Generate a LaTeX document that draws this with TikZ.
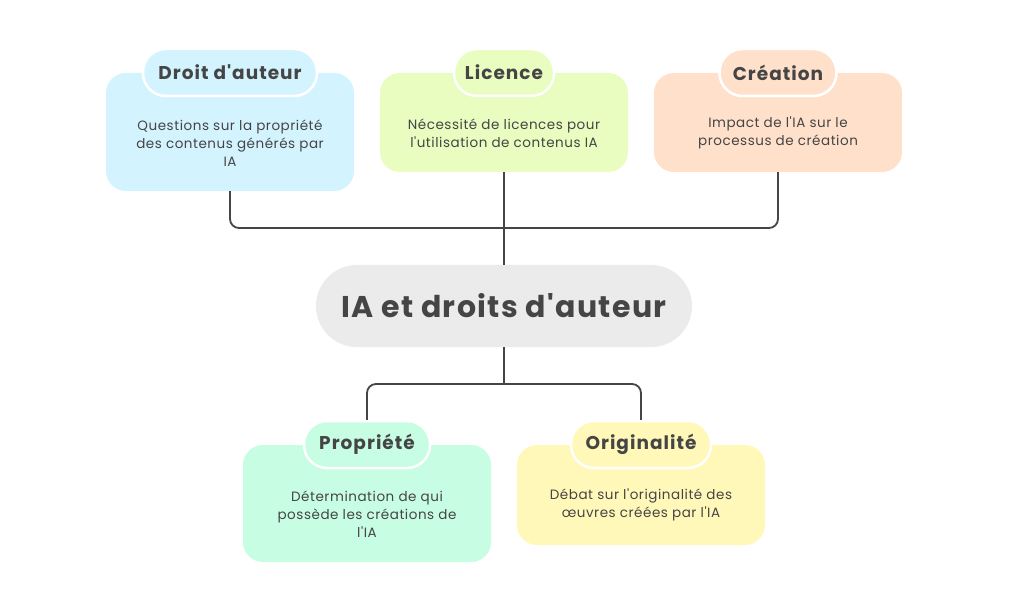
\documentclass[tikz,border=0pt]{standalone}
\usepackage{fontspec}
\setmainfont{Poppins}[Ligatures=TeXOff]
\definecolor{cblue}{HTML}{D3F3FE}
\definecolor{cgreen}{HTML}{E8FDBF}
\definecolor{corange}{HTML}{FFE1CB}
\definecolor{cmint}{HTML}{C7FDE3}
\definecolor{cyellow}{HTML}{FFF8B9}
\definecolor{cgrey}{HTML}{EBEBEB}
\definecolor{ink}{HTML}{454545}
\begin{document}
\begin{tikzpicture}[x=1pt,y=-1pt,
  card/.style={rounded corners=20pt, inner sep=0pt, minimum width=248pt, draw=none},
  tab/.style={rounded corners=23pt, inner sep=0pt, minimum height=47pt, draw=white, line width=2.5pt, text=ink, font=\fontsize{18.5}{20}\selectfont\bfseries\addfontfeatures{LetterSpace=5.5}},
  body/.style={align=center, text=ink, font=\fontsize{13.5}{18}\selectfont\addfontfeatures{LetterSpace=4}, inner sep=0pt},
  conn/.style={draw=ink, line width=1.8pt, rounded corners=9pt},
  hub/.style={rounded corners=41pt, fill=cgrey, minimum width=376pt, minimum height=82pt, inner sep=0pt, text=ink, font=\fontsize{30}{32}\selectfont\bfseries\addfontfeatures{LetterSpace=4.5}}]
\useasboundingbox[fill=white] (0,0) rectangle (1009,612);
\coordinate (j1) at (504,228);
\coordinate (j2) at (504,384);
% cards
\node[card, fill=cblue, minimum height=118pt] (c1) at (230,132) {};
\node[card, fill=cgreen, minimum height=99pt] (c2) at (504,122.5) {};
\node[card, fill=corange, minimum height=99pt] (c3) at (778,122.5) {};
\node[card, fill=cmint, minimum height=117pt] (c4) at (367,503.5) {};
\node[card, fill=cyellow, minimum height=100pt] (c5) at (641,495) {};
\node[hub] (hub) at (504,306) {IA et droits d'auteur};
\draw[conn] (c1.south) |- (j1) -| (c3.south);
\draw[conn] (c2.south) -- (hub.north);
\draw[conn] (hub.south) -- (j2);
% tabs
\node[tab, fill=cblue, minimum width=174pt] (t1) at (230,72.5) {Droit d'auteur};
\node[tab, fill=cgreen, minimum width=100pt] (t2) at (504,72.5) {Licence};
\node[tab, fill=corange, minimum width=117pt] (t3) at (778,72.5) {Création};
\node[tab, fill=cmint, minimum width=126pt] (t4) at (367,444.5) {Propriété};
\node[tab, fill=cyellow, minimum width=140pt] (t5) at (641,444.5) {Originalité};
\draw[conn] (t4.north) |- (j2) -| (t5.north);
% bodies
\node[body] (b1) at (230,143) {Questions sur la propriété\\des contenus générés par\\IA};
\node[body] (b2) at (504,133) {Nécessité de licences pour\\l'utilisation de contenus IA};
\node[body] (b3) at (778,133) {Impact de l'IA sur le\\processus de création};
\node[body] (b4) at (367,514) {Détermination de qui\\possède les créations de\\l'IA};
\node[body] (b5) at (641,505) {Débat sur l'originalité des\\œuvres créées par l'IA};
\end{tikzpicture}
\end{document}
